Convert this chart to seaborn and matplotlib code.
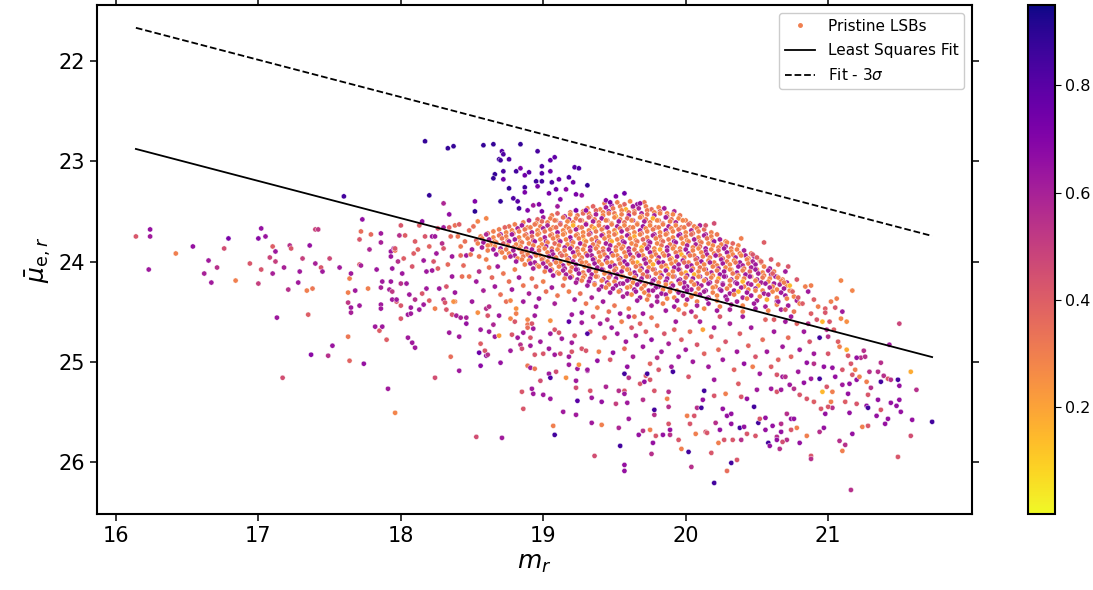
import matplotlib
matplotlib.use("Agg")
import matplotlib.pyplot as plt
import seaborn as sns
import numpy as np
import pandas as pd
from matplotlib.colors import Normalize
from matplotlib.cm import ScalarMappable
from matplotlib.lines import Line2D

# ---------------- data (m_r, mu_e_r, colour value) ----------------
pts_left = [(16.14,23.75,.42),(16.24,23.68,.65),(16.24,23.75,.62),(16.23,24.08,.63),(16.42,23.92,.30),(16.54,23.85,.65),(16.65,23.99,.62),(16.62,24.12,.60),(16.67,24.21,.62),(16.71,24.06,.55),(16.76,23.87,.45),(16.79,23.77,.72),(16.84,24.19,.30),(16.94,24.02,.42),(17.00,24.22,.50),(17.00,23.77,.68),(17.02,23.67,.65),(17.05,23.75,.64),(17.02,24.08,.43),(17.08,23.96,.48),(17.10,23.85,.40),(17.12,23.90,.63),(17.12,24.00,.50),(17.10,24.12,.60),(17.18,24.06,.60),(17.21,24.28,.55),(17.22,23.84,.55),(17.23,23.87,.42),(17.13,24.56,.63),(17.17,25.16,.45),(17.28,24.21,.62),(17.29,24.10,.62),(17.31,23.97,.50),(17.34,24.29,.30),(17.38,24.27,.32),(17.35,24.53,.40),(17.36,23.84,.65),(17.37,24.93,.68),(17.40,23.68,.48),(17.42,23.68,.52),(17.40,24.02,.60),(17.44,24.06,.42),(17.45,24.10,.62),(17.49,24.94,.55),(17.50,23.97,.47),(17.52,24.84,.64),(17.57,24.06,.62),(17.60,23.35,.85),(17.63,24.75,.32),(17.64,24.99,.38),(17.63,24.31,.30),(17.63,24.41,.52),(17.64,24.17,.30),(17.65,24.12,.62),(17.65,24.46,.62),(17.65,24.51,.60),(17.68,24.29,.62),(17.71,24.44,.62),(17.71,24.03,.40),(17.72,24.04,.60),(17.71,23.78,.42),(17.72,23.70,.35),(17.73,23.58,.66),(17.74,25.02,.65),(17.77,24.27,.30),(17.78,23.88,.58),(17.79,23.73,.36),(17.82,24.65,.62),(17.85,24.69,.40),(17.87,24.65,.63),(17.83,24.08,.63),(17.86,23.72,.62),(17.86,23.81,.60),(17.87,24.20,.62),(17.86,24.26,.60),(17.86,24.43,.62),(17.86,24.47,.62),(17.90,24.78,.40),(17.91,25.27,.62),(17.96,25.51,.28),(17.93,23.90,.63),(17.93,23.95,.63),(17.94,24.07,.63),(17.93,24.20,.63),(17.92,24.28,.60),(17.94,24.30,.52),(17.94,24.38,.62),(17.97,24.40,.42),(17.95,23.87,.62),(17.96,23.89,.32)]

pts_mid_left = [(18.00,23.64,.42),(18.03,23.74,.40),(17.99,23.74,.55),(18.13,23.64,.40),(18.17,23.75,.42),(18.22,23.75,.63),(18.24,23.75,.62),(18.26,23.67,.42),(18.30,23.66,.62),(18.34,23.66,.40),(18.38,23.64,.34),(18.41,23.63,.40),(18.48,23.69,.36),(18.51,23.65,.34),(18.54,23.60,.28),(18.60,23.57,.28),(18.29,23.82,.55),(18.30,23.87,.42),(18.36,23.95,.62),(18.42,23.94,.36),(18.46,23.94,.62),(18.49,23.93,.34),(18.44,24.04,.36),(18.18,24.10,.63),(18.22,24.09,.62),(18.26,24.07,.40),(18.23,24.00,.42),(18.16,23.99,.62),(18.08,24.05,.42),(18.02,23.97,.40),(17.98,24.00,.55),(18.01,24.12,.63),(18.00,24.22,.55),(18.04,24.22,.62),(17.96,23.87,.42),(18.09,23.92,.40),(18.12,23.88,.38),(18.33,24.03,.36),(18.36,24.15,.62),(18.43,24.15,.34),(18.48,24.15,.32),(18.27,24.27,.62),(18.32,24.25,.42),(18.38,24.31,.63),(18.15,24.32,.42),(18.18,24.27,.62),(18.20,24.39,.40),(17.97,24.38,.62),(18.06,24.33,.62),(18.10,24.38,.55),(18.07,24.46,.62),(18.16,24.43,.62),(18.30,24.38,.55),(18.38,24.40,.30),(18.55,24.10,.55),(18.53,24.20,.62),(18.58,24.29,.60),(18.60,23.98,.30),(18.62,24.06,.34),(18.64,24.16,.36),(18.66,24.25,.62),(18.70,24.33,.34),(18.68,24.05,.62),(18.72,24.12,.32),(18.76,24.20,.34),(18.78,24.28,.62),(18.74,24.40,.34),(18.80,24.08,.30),(18.83,24.16,.62),(18.86,24.24,.32),(18.90,24.32,.60),(18.92,24.17,.34),(18.95,24.25,.36),(18.97,24.37,.62),(19.00,24.20,.30),(19.02,24.30,.34),(19.06,24.26,.62),(19.10,24.34,.32),(19.14,24.24,.34),(19.08,24.42,.60),(19.18,24.30,.30),(19.22,24.38,.62),(19.26,24.32,.34),(19.30,24.42,.32),(19.34,24.36,.60),(19.38,24.46,.30),(19.42,24.40,.62),(19.46,24.50,.34),(19.50,24.44,.32),(19.54,24.52,.62),(19.60,24.47,.30),(19.64,24.55,.34),(19.70,24.52,.62),(19.76,24.56,.32),(18.45,23.80,.34),(18.40,23.75,.32),(18.50,23.88,.62),(18.42,23.85,.32),(18.55,23.95,.32),(18.35,23.75,.36),(18.20,23.85,.38),(18.25,23.92,.62),(18.10,23.80,.40)]

core_rows_a = [(19.43,23.42,.32),(19.48,23.44,.60),(19.52,23.41,.30),(19.57,23.43,.38),(19.61,23.40,.28),(19.66,23.43,.64),(19.71,23.41,.32),
(19.31,23.47,.30),(19.35,23.45,.38),(19.40,23.48,.28),(19.44,23.46,.62),(19.49,23.47,.32),(19.54,23.45,.30),(19.58,23.48,.16),(19.63,23.46,.34),(19.67,23.47,.58),(19.72,23.45,.30),(19.76,23.48,.36),(19.81,23.46,.28),(19.85,23.47,.62),
(19.19,23.51,.34),(19.23,23.49,.60),(19.28,23.50,.30),(19.32,23.52,.28),(19.37,23.49,.38),(19.42,23.51,.30),(19.46,23.50,.64),(19.50,23.52,.32),(19.55,23.49,.28),(19.60,23.51,.36),(19.64,23.50,.30),(19.69,23.52,.60),(19.73,23.49,.32),(19.78,23.51,.28),(19.82,23.50,.40),(19.87,23.52,.30),(19.92,23.50,.58),
(19.06,23.54,.30),(19.10,23.52,.40),(19.15,23.55,.62),(19.19,23.53,.28),(19.24,23.54,.32),(19.28,23.52,.36),(19.33,23.55,.30),(19.37,23.53,.60),(19.42,23.54,.28),(19.46,23.52,.32),(19.51,23.55,.18),(19.55,23.53,.30),(19.60,23.54,.62),(19.64,23.52,.34),(19.69,23.55,.28),(19.73,23.53,.32),(19.78,23.54,.60),(19.82,23.52,.30),(19.87,23.55,.38),(19.91,23.53,.28),(19.96,23.54,.32),
(18.96,23.58,.38),(19.00,23.56,.62),(19.05,23.57,.30),(19.09,23.59,.28),(19.14,23.56,.34),(19.18,23.58,.60),(19.23,23.57,.30),(19.27,23.59,.28),(19.32,23.56,.40),(19.36,23.58,.30),(19.41,23.57,.62),(19.45,23.59,.32),(19.50,23.56,.28),(19.54,23.58,.30),(19.59,23.57,.36),(19.63,23.59,.58),(19.68,23.56,.28),(19.72,23.58,.32),(19.77,23.57,.16),(19.81,23.59,.30),(19.86,23.56,.62),(19.90,23.58,.34),(19.95,23.57,.28),(20.00,23.59,.30),
(18.86,23.61,.30),(18.90,23.59,.60),(18.95,23.62,.28),(18.99,23.60,.36),(19.03,23.61,.30),(19.08,23.59,.32),(19.12,23.62,.64),(19.17,23.60,.28),(19.21,23.61,.30),(19.26,23.59,.38),(19.30,23.62,.28),(19.35,23.60,.60),(19.39,23.61,.32),(19.44,23.59,.30),(19.48,23.62,.28),(19.53,23.60,.62),(19.57,23.61,.34),(19.62,23.59,.28),(19.66,23.62,.30),(19.71,23.60,.60),(19.75,23.61,.32),(19.80,23.59,.28),(19.84,23.62,.38),(19.89,23.60,.30),(19.93,23.61,.58),(19.98,23.59,.28),(20.03,23.62,.32),
(18.76,23.65,.34),(18.80,23.63,.30),(18.85,23.64,.62),(18.89,23.66,.28),(18.94,23.63,.32),(18.98,23.65,.30),(19.03,23.64,.58),(19.07,23.66,.28),(19.12,23.63,.36),(19.16,23.65,.30),(19.21,23.64,.16),(19.25,23.66,.32),(19.30,23.63,.62),(19.34,23.65,.28),(19.39,23.64,.30),(19.43,23.66,.40),(19.48,23.63,.30),(19.52,23.65,.60),(19.57,23.64,.28),(19.61,23.66,.32),(19.66,23.63,.30),(19.70,23.65,.64),(19.75,23.64,.28),(19.79,23.66,.34),(19.84,23.63,.30),(19.88,23.65,.60),(19.93,23.64,.28),(19.97,23.66,.32),(20.02,23.63,.38),(20.06,23.65,.30),(20.10,23.64,.60),
(18.69,23.68,.30),(18.73,23.66,.38),(18.78,23.69,.28),(18.82,23.67,.60),(18.87,23.68,.32),(18.91,23.66,.30),(18.96,23.69,.28),(19.00,23.67,.62),(19.05,23.68,.30),(19.09,23.66,.34),(19.14,23.69,.28),(19.18,23.67,.30),(19.23,23.68,.60),(19.27,23.66,.32),(19.32,23.69,.28),(19.36,23.67,.18),(19.41,23.68,.30),(19.45,23.66,.64),(19.50,23.69,.28),(19.54,23.67,.32),(19.59,23.68,.38),(19.63,23.66,.30),(19.68,23.69,.60),(19.72,23.67,.28),(19.77,23.68,.32),(19.81,23.66,.30),(19.86,23.69,.62),(19.90,23.67,.28),(19.95,23.68,.34),(19.99,23.66,.30),(20.04,23.69,.58),(20.08,23.67,.30),(20.13,23.68,.36)]

core_rows_b = [(18.61,23.72,.36),(18.65,23.70,.30),(18.70,23.73,.62),(18.74,23.71,.28),(18.79,23.72,.32),(18.83,23.70,.30),(18.88,23.73,.40),(18.92,23.71,.60),(18.97,23.72,.28),(19.01,23.70,.32),(19.06,23.73,.30),(19.10,23.71,.64),(19.15,23.72,.28),(19.19,23.70,.34),(19.24,23.73,.30),(19.28,23.71,.28),(19.33,23.72,.60),(19.37,23.70,.32),(19.42,23.73,.28),(19.46,23.71,.30),(19.51,23.72,.16),(19.55,23.70,.62),(19.60,23.73,.30),(19.64,23.71,.28),(19.69,23.72,.36),(19.73,23.70,.30),(19.78,23.73,.60),(19.82,23.71,.28),(19.87,23.72,.32),(19.91,23.70,.30),(19.96,23.73,.62),(20.00,23.71,.28),(20.05,23.72,.34),(20.09,23.70,.30),(20.14,23.73,.58),(20.18,23.71,.30),
(18.56,23.75,.30),(18.60,23.73,.58),(18.65,23.76,.28),(18.69,23.74,.34),(18.74,23.75,.30),(18.78,23.73,.62),(18.83,23.76,.28),(18.87,23.74,.30),(18.92,23.75,.36),(18.96,23.73,.28),(19.01,23.76,.60),(19.05,23.74,.32),(19.10,23.75,.30),(19.14,23.73,.28),(19.19,23.76,.64),(19.23,23.74,.30),(19.28,23.75,.28),(19.32,23.73,.38),(19.37,23.76,.30),(19.41,23.74,.60),(19.46,23.75,.28),(19.50,23.73,.32),(19.55,23.76,.30),(19.59,23.74,.62),(19.64,23.75,.18),(19.68,23.73,.30),(19.73,23.76,.28),(19.77,23.74,.60),(19.82,23.75,.32),(19.86,23.73,.30),(19.91,23.76,.28),(19.95,23.74,.64),(20.00,23.75,.30),(20.04,23.73,.36),(20.09,23.76,.28),(20.13,23.74,.60),(20.18,23.75,.30),(20.22,23.73,.32),
(18.53,23.79,.38),(18.57,23.77,.30),(18.62,23.78,.60),(18.66,23.80,.28),(18.71,23.77,.32),(18.75,23.79,.30),(18.80,23.78,.62),(18.84,23.80,.28),(18.89,23.77,.30),(18.93,23.79,.36),(18.98,23.78,.28),(19.02,23.80,.60),(19.07,23.77,.30),(19.11,23.79,.32),(19.16,23.78,.28),(19.20,23.80,.62),(19.25,23.77,.30),(19.29,23.79,.16),(19.34,23.78,.30),(19.38,23.80,.58),(19.43,23.77,.28),(19.47,23.79,.34),(19.52,23.78,.30),(19.56,23.80,.62),(19.61,23.77,.28),(19.65,23.79,.30),(19.70,23.78,.38),(19.74,23.80,.60),(19.79,23.77,.30),(19.83,23.79,.28),(19.88,23.78,.32),(19.92,23.80,.64),(19.97,23.77,.30),(20.01,23.79,.28),(20.06,23.78,.60),(20.10,23.80,.30),(20.15,23.77,.34),(20.19,23.79,.28),(20.24,23.78,.60),(20.28,23.80,.30),
(18.54,23.82,.30),(18.58,23.81,.62),(18.63,23.83,.28),(18.67,23.81,.30),(18.72,23.82,.40),(18.76,23.80,.60),(18.81,23.83,.28),(18.85,23.81,.32),(18.90,23.82,.30),(18.94,23.80,.64),(18.99,23.83,.28),(19.03,23.81,.30),(19.08,23.82,.36),(19.12,23.80,.60),(19.17,23.83,.28),(19.21,23.81,.30),(19.26,23.82,.62),(19.30,23.80,.28),(19.35,23.83,.32),(19.39,23.81,.30),(19.44,23.82,.60),(19.48,23.80,.18),(19.53,23.83,.30),(19.57,23.81,.62),(19.62,23.82,.28),(19.66,23.80,.32),(19.71,23.83,.30),(19.75,23.81,.60),(19.80,23.82,.28),(19.84,23.80,.36),(19.89,23.83,.30),(19.93,23.81,.62),(19.98,23.82,.28),(20.02,23.80,.30),(20.07,23.83,.60),(20.11,23.81,.32),(20.16,23.82,.28),(20.20,23.80,.64),(20.25,23.83,.30),(20.29,23.81,.28),(20.33,23.82,.38),
(18.57,23.86,.60),(18.61,23.84,.30),(18.66,23.85,.28),(18.70,23.87,.62),(18.75,23.84,.30),(18.79,23.86,.34),(18.84,23.85,.28),(18.88,23.87,.60),(18.93,23.84,.30),(18.97,23.86,.28),(19.02,23.85,.62),(19.06,23.87,.32),(19.11,23.84,.30),(19.15,23.86,.60),(19.20,23.85,.28),(19.24,23.87,.38),(19.29,23.84,.30),(19.33,23.86,.64),(19.38,23.85,.28),(19.42,23.87,.30),(19.47,23.84,.60),(19.51,23.86,.32),(19.56,23.85,.28),(19.60,23.87,.62),(19.65,23.84,.30),(19.69,23.86,.16),(19.74,23.85,.60),(19.78,23.87,.28),(19.83,23.84,.34),(19.87,23.86,.62),(19.92,23.85,.30),(19.96,23.87,.28),(20.01,23.84,.60),(20.05,23.86,.30),(20.10,23.85,.36),(20.14,23.87,.62),(20.19,23.84,.28),(20.23,23.86,.30),(20.28,23.85,.60),(20.32,23.87,.32),(20.37,23.84,.28),
(18.61,23.89,.30),(18.65,23.88,.62),(18.70,23.90,.28),(18.74,23.88,.32),(18.79,23.89,.60),(18.83,23.87,.30),(18.88,23.90,.28),(18.92,23.88,.62),(18.97,23.89,.36),(19.01,23.87,.30),(19.06,23.90,.60),(19.10,23.88,.28),(19.15,23.89,.32),(19.19,23.87,.64),(19.24,23.90,.30),(19.28,23.88,.28),(19.33,23.89,.60),(19.37,23.87,.30),(19.42,23.90,.38),(19.46,23.88,.62),(19.51,23.89,.28),(19.55,23.87,.30),(19.60,23.90,.60),(19.64,23.88,.32),(19.69,23.89,.28),(19.73,23.87,.62),(19.78,23.90,.30),(19.82,23.88,.18),(19.87,23.89,.60),(19.91,23.87,.28),(19.96,23.90,.34),(20.00,23.88,.62),(20.05,23.89,.30),(20.09,23.87,.28),(20.14,23.90,.60),(20.18,23.88,.30),(20.23,23.89,.36),(20.27,23.87,.62),(20.32,23.90,.28),(20.36,23.88,.30),(20.41,23.89,.60),
(18.67,23.93,.62),(18.71,23.91,.30),(18.76,23.92,.28),(18.80,23.94,.60),(18.85,23.91,.32),(18.89,23.93,.30),(18.94,23.92,.62),(18.98,23.94,.28),(19.03,23.91,.30),(19.07,23.93,.60),(19.12,23.92,.36),(19.16,23.94,.28),(19.21,23.91,.62),(19.25,23.93,.30),(19.30,23.92,.28),(19.34,23.94,.60),(19.39,23.91,.32),(19.43,23.93,.30),(19.48,23.92,.64),(19.52,23.94,.28),(19.57,23.91,.30),(19.61,23.93,.60),(19.66,23.92,.38),(19.70,23.94,.28),(19.75,23.91,.62),(19.79,23.93,.30),(19.84,23.92,.28),(19.88,23.94,.60),(19.93,23.91,.32),(19.97,23.93,.16),(20.02,23.92,.62),(20.06,23.94,.30),(20.11,23.91,.28),(20.15,23.93,.60),(20.20,23.92,.30),(20.24,23.94,.34),(20.29,23.91,.62),(20.33,23.93,.28),(20.38,23.92,.30),(20.42,23.94,.60),(20.46,23.92,.32)]

core_rows_c = [(18.73,23.96,.30),(18.77,23.95,.60),(18.82,23.97,.28),(18.86,23.95,.32),(18.91,23.96,.62),(18.95,23.94,.30),(19.00,23.97,.28),(19.04,23.95,.60),(19.09,23.96,.30),(19.13,23.94,.38),(19.18,23.97,.62),(19.22,23.95,.28),(19.27,23.96,.30),(19.31,23.94,.60),(19.36,23.97,.32),(19.40,23.95,.28),(19.45,23.96,.62),(19.49,23.94,.30),(19.54,23.97,.60),(19.58,23.95,.28),(19.63,23.96,.34),(19.67,23.94,.62),(19.72,23.97,.30),(19.76,23.95,.28),(19.81,23.96,.60),(19.85,23.94,.30),(19.90,23.97,.18),(19.94,23.95,.62),(19.99,23.96,.28),(20.03,23.94,.32),(20.08,23.97,.60),(20.12,23.95,.30),(20.17,23.96,.28),(20.21,23.94,.62),(20.26,23.97,.36),(20.30,23.95,.30),(20.35,23.96,.60),(20.39,23.94,.28),(20.44,23.97,.30),(20.48,23.95,.62),
(18.81,24.00,.62),(18.85,23.98,.30),(18.90,23.99,.28),(18.94,24.01,.60),(18.99,23.98,.32),(19.03,24.00,.30),(19.08,23.99,.62),(19.12,24.01,.28),(19.17,23.98,.30),(19.21,24.00,.60),(19.26,23.99,.36),(19.30,24.01,.28),(19.35,23.98,.62),(19.39,24.00,.30),(19.44,23.99,.60),(19.48,24.01,.28),(19.53,23.98,.32),(19.57,24.00,.64),(19.62,23.99,.30),(19.66,24.01,.16),(19.71,23.98,.60),(19.75,24.00,.28),(19.80,23.99,.30),(19.84,24.01,.62),(19.89,23.98,.32),(19.93,24.00,.28),(19.98,23.99,.60),(20.02,24.01,.30),(20.07,23.98,.38),(20.11,24.00,.62),(20.16,23.99,.28),(20.20,24.01,.30),(20.25,23.98,.60),(20.29,24.00,.32),(20.34,23.99,.28),(20.38,24.01,.62),(20.43,23.98,.30),(20.47,24.00,.60),(20.52,23.99,.28),
(18.87,24.03,.30),(18.91,24.02,.62),(18.96,24.04,.28),(19.00,24.02,.60),(19.05,24.03,.32),(19.09,24.01,.30),(19.14,24.04,.62),(19.18,24.02,.28),(19.23,24.03,.60),(19.27,24.01,.30),(19.32,24.04,.34),(19.36,24.02,.62),(19.41,24.03,.28),(19.45,24.01,.30),(19.50,24.04,.60),(19.54,24.02,.32),(19.59,24.03,.62),(19.63,24.01,.28),(19.68,24.04,.30),(19.72,24.02,.60),(19.77,24.03,.18),(19.81,24.01,.62),(19.86,24.04,.30),(19.90,24.02,.28),(19.95,24.03,.60),(19.99,24.01,.36),(20.04,24.04,.62),(20.08,24.02,.30),(20.13,24.03,.28),(20.17,24.01,.60),(20.22,24.04,.30),(20.26,24.02,.62),(20.31,24.03,.28),(20.35,24.01,.32),(20.40,24.04,.60),(20.44,24.02,.30),(20.49,24.03,.62),(20.53,24.01,.28),
(18.93,24.07,.60),(18.97,24.05,.30),(19.02,24.06,.62),(19.06,24.08,.28),(19.11,24.05,.30),(19.15,24.07,.60),(19.20,24.06,.32),(19.24,24.08,.62),(19.29,24.05,.28),(19.33,24.07,.30),(19.38,24.06,.60),(19.42,24.08,.38),(19.47,24.05,.62),(19.51,24.07,.28),(19.56,24.06,.30),(19.60,24.08,.60),(19.65,24.05,.32),(19.69,24.07,.62),(19.74,24.06,.28),(19.78,24.08,.60),(19.83,24.05,.30),(19.87,24.07,.16),(19.92,24.06,.62),(19.96,24.08,.30),(20.01,24.05,.60),(20.05,24.07,.28),(20.10,24.06,.34),(20.14,24.08,.62),(20.19,24.05,.30),(20.23,24.07,.60),(20.28,24.06,.28),(20.32,24.08,.30),(20.37,24.05,.62),(20.41,24.07,.32),(20.46,24.06,.60),(20.50,24.08,.28),(20.55,24.05,.30),(20.59,24.07,.62),
(19.01,24.10,.30),(19.05,24.09,.62),(19.10,24.11,.28),(19.14,24.09,.60),(19.19,24.10,.32),(19.23,24.08,.62),(19.28,24.11,.30),(19.32,24.09,.60),(19.37,24.10,.28),(19.41,24.08,.62),(19.46,24.11,.30),(19.50,24.09,.36),(19.55,24.10,.60),(19.59,24.08,.28),(19.64,24.11,.62),(19.68,24.09,.30),(19.73,24.10,.60),(19.77,24.08,.32),(19.82,24.11,.28),(19.86,24.09,.62),(19.91,24.10,.30),(19.95,24.08,.60),(20.00,24.11,.18),(20.04,24.09,.62),(20.09,24.10,.28),(20.13,24.08,.30),(20.18,24.11,.60),(20.22,24.09,.32),(20.27,24.10,.62),(20.31,24.08,.28),(20.36,24.11,.60),(20.40,24.09,.30),(20.45,24.10,.38),(20.49,24.08,.62),(20.54,24.11,.28),(20.58,24.09,.60),(20.62,24.10,.30),
(19.07,24.14,.62),(19.11,24.12,.30),(19.16,24.13,.60),(19.20,24.15,.28),(19.25,24.12,.62),(19.29,24.14,.30),(19.34,24.13,.60),(19.38,24.15,.32),(19.43,24.12,.28),(19.47,24.14,.62),(19.52,24.13,.60),(19.56,24.15,.30),(19.61,24.12,.28),(19.65,24.14,.62),(19.70,24.13,.34),(19.74,24.15,.60),(19.79,24.12,.30),(19.83,24.14,.62),(19.88,24.13,.28),(19.92,24.15,.60),(19.97,24.12,.30),(20.01,24.14,.62),(20.06,24.13,.16),(20.10,24.15,.60),(20.15,24.12,.30),(20.19,24.14,.28),(20.24,24.13,.62),(20.28,24.15,.60),(20.33,24.12,.32),(20.37,24.14,.30),(20.42,24.13,.62),(20.46,24.15,.28),(20.51,24.12,.60),(20.55,24.14,.30),(20.60,24.13,.62),(20.64,24.15,.28),
(19.15,24.17,.30),(19.19,24.16,.62),(19.24,24.18,.60),(19.28,24.16,.28),(19.33,24.17,.62),(19.37,24.15,.30),(19.42,24.18,.60),(19.46,24.16,.32),(19.51,24.17,.62),(19.55,24.15,.28),(19.60,24.18,.60),(19.64,24.16,.30),(19.69,24.17,.62),(19.73,24.15,.36),(19.78,24.18,.60),(19.82,24.16,.28),(19.87,24.17,.62),(19.91,24.15,.30),(19.96,24.18,.60),(20.00,24.16,.32),(20.05,24.17,.62),(20.09,24.15,.28),(20.14,24.18,.60),(20.18,24.16,.30),(20.23,24.17,.18),(20.27,24.15,.62),(20.32,24.18,.60),(20.36,24.16,.28),(20.41,24.17,.30),(20.45,24.15,.62),(20.50,24.18,.60),(20.54,24.16,.32),(20.59,24.17,.28),(20.63,24.15,.62),(20.68,24.18,.30)]

core_rows_d = [(19.23,24.21,.60),(19.27,24.19,.30),(19.32,24.20,.62),(19.36,24.22,.60),(19.41,24.19,.28),(19.45,24.21,.62),(19.50,24.20,.30),(19.54,24.22,.60),(19.59,24.19,.62),(19.63,24.21,.28),(19.68,24.20,.60),(19.72,24.22,.32),(19.77,24.19,.62),(19.81,24.21,.30),(19.86,24.20,.60),(19.90,24.22,.28),(19.95,24.19,.62),(19.99,24.21,.60),(20.04,24.20,.30),(20.08,24.22,.62),(20.13,24.19,.28),(20.17,24.21,.60),(20.22,24.20,.34),(20.26,24.22,.62),(20.31,24.19,.30),(20.35,24.21,.60),(20.40,24.20,.16),(20.44,24.22,.62),(20.49,24.19,.30),(20.53,24.21,.60),(20.58,24.20,.28),(20.62,24.22,.62),(20.67,24.19,.30),(20.71,24.21,.60),
(19.31,24.24,.62),(19.36,24.23,.28),(19.41,24.25,.60),(19.46,24.23,.30),(19.51,24.24,.62),(19.56,24.22,.60),(19.61,24.25,.28),(19.66,24.23,.62),(19.71,24.24,.30),(19.76,24.22,.60),(19.81,24.25,.62),(19.86,24.23,.28),(19.91,24.24,.60),(19.96,24.22,.32),(20.01,24.25,.62),(20.06,24.23,.30),(20.11,24.24,.60),(20.16,24.22,.62),(20.21,24.25,.28),(20.26,24.23,.60),(20.31,24.24,.30),(20.36,24.22,.62),(20.41,24.25,.28),(20.46,24.23,.60),(20.51,24.24,.18),(20.56,24.22,.62),(20.61,24.25,.30),(20.66,24.23,.60),(20.71,24.24,.28),
(19.39,24.28,.60),(19.44,24.26,.30),(19.49,24.27,.62),(19.54,24.29,.60),(19.59,24.26,.28),(19.64,24.28,.62),(19.69,24.27,.30),(19.74,24.29,.60),(19.79,24.26,.62),(19.84,24.28,.28),(19.89,24.27,.60),(19.94,24.29,.30),(19.99,24.26,.62),(20.04,24.28,.60),(20.09,24.27,.32),(20.14,24.29,.62),(20.19,24.26,.28),(20.24,24.28,.60),(20.29,24.27,.30),(20.34,24.29,.62),(20.39,24.26,.60),(20.44,24.28,.28),(20.49,24.27,.62),(20.54,24.29,.30),(20.59,24.26,.60),(20.64,24.28,.28),(20.69,24.27,.62),(20.74,24.29,.30),
(19.47,24.31,.62),(19.53,24.30,.30),(19.59,24.32,.60),(19.65,24.30,.62),(19.71,24.31,.28),(19.77,24.29,.60),(19.83,24.32,.62),(19.89,24.30,.30),(19.95,24.31,.60),(20.01,24.29,.62),(20.07,24.32,.28),(20.13,24.30,.60),(20.19,24.31,.30),(20.25,24.29,.62),(20.31,24.32,.60),(20.37,24.30,.16),(20.43,24.31,.62),(20.49,24.29,.30),(20.55,24.32,.60),(20.61,24.30,.28),(20.67,24.31,.62),(20.73,24.29,.30),
(19.56,24.35,.60),(19.62,24.33,.28),(19.68,24.36,.62),(19.74,24.34,.30),(19.80,24.35,.60),(19.86,24.33,.62),(19.92,24.36,.28),(19.98,24.34,.60),(20.04,24.35,.30),(20.10,24.33,.62),(20.16,24.36,.60),(20.22,24.34,.28),(20.28,24.35,.62),(20.34,24.33,.30),(20.40,24.36,.60),(20.46,24.34,.62),(20.52,24.35,.28),(20.58,24.33,.60),(20.64,24.36,.30),(20.70,24.34,.62),(20.76,24.35,.28),
(19.66,24.39,.62),(19.73,24.38,.30),(19.80,24.40,.60),(19.87,24.37,.28),(19.94,24.39,.62),(20.01,24.38,.60),(20.08,24.40,.30),(20.15,24.37,.62),(20.22,24.39,.28),(20.29,24.38,.60),(20.36,24.40,.62),(20.43,24.37,.30),(20.50,24.39,.60),(20.57,24.38,.18),(20.64,24.40,.62),(20.71,24.37,.30),(20.78,24.39,.60),
(19.76,24.44,.60),(19.84,24.42,.30),(19.92,24.45,.62),(20.00,24.43,.28),(20.08,24.44,.60),(20.16,24.42,.62),(20.24,24.45,.30),(20.32,24.43,.60),(20.40,24.44,.28),(20.48,24.42,.62),(20.56,24.45,.60),(20.64,24.43,.30),(20.72,24.44,.62),(20.80,24.42,.28),
(19.86,24.49,.62),(19.95,24.48,.30),(20.04,24.50,.60),(20.13,24.47,.28),(20.22,24.49,.62),(20.31,24.48,.60),(20.40,24.50,.30),(20.49,24.47,.62),(20.58,24.49,.28),(20.67,24.48,.60),(20.76,24.50,.32)]

pts_below_core = [(19.35,24.55,.42),(19.40,24.62,.62),(19.33,24.70,.38),(19.45,24.58,.55),(19.48,24.66,.62),(19.43,24.76,.40),(19.52,24.72,.62),(19.55,24.60,.30),(19.58,24.80,.62),(19.62,24.66,.42),(19.65,24.74,.60),(19.68,24.62,.38),(19.70,24.85,.62),(19.72,24.70,.40),(19.76,24.78,.65),(19.80,24.64,.35),(19.83,24.90,.62),(19.85,24.72,.42),(19.88,24.82,.60),(19.92,24.68,.38),(19.95,24.95,.62),(19.97,24.78,.40),(20.00,24.88,.62),(20.03,24.70,.35),(20.05,25.00,.62),(20.08,24.83,.42),(20.10,24.60,.60),(20.13,24.92,.38),(20.16,25.05,.62),(20.18,24.75,.40),(20.20,24.66,.62),(20.23,24.88,.35),(20.26,24.98,.62),(20.28,24.80,.42),(20.31,24.62,.60),(20.34,25.08,.38),(20.36,24.90,.62),(20.38,24.72,.40),(20.41,25.02,.65),(20.44,24.84,.38),(20.46,24.66,.62),(20.49,24.95,.42),(20.52,25.12,.62),(20.54,24.78,.35),(20.57,24.90,.62),(20.60,25.05,.40),(20.62,24.70,.62),(20.65,24.98,.38),(20.68,25.15,.62),(19.47,24.98,.42),(19.63,24.95,.60),(19.75,25.02,.38),(19.90,25.05,.62),(20.02,25.15,.42),(20.20,25.18,.62),(20.37,25.22,.40),(20.50,25.28,.62),(20.64,25.30,.42),(19.57,24.87,.35),(19.93,24.60,.62),(20.07,24.55,.38),(20.24,24.55,.42),(20.40,24.55,.62),(20.56,24.58,.38),(20.70,24.60,.62),(20.12,24.68,.20),(19.99,24.52,.40),(19.60,24.55,.62),(20.47,25.05,.30),(19.80,24.96,.55)]

pts_lower_left = [(18.00,24.44,.42),(18.05,24.53,.62),(18.07,24.52,.62),(18.13,24.48,.62),(18.00,24.57,.42),(18.05,24.76,.62),(18.08,24.81,.62),(18.10,24.86,.62),(18.24,25.16,.45),(18.24,24.47,.30),(18.31,24.41,.42),(18.32,24.48,.42),(18.37,24.40,.25),(18.36,24.53,.42),(18.39,24.54,.60),(18.42,24.56,.60),(18.46,24.56,.60),(18.46,24.62,.65),(18.34,24.71,.62),(18.41,24.75,.62),(18.35,24.95,.35),(18.41,25.09,.62),(18.50,24.40,.62),(18.54,24.51,.25),(18.56,24.68,.62),(18.56,24.82,.40),(18.55,24.91,.75),(18.59,24.89,.42),(18.60,24.94,.65),(18.61,24.93,.55),(18.56,25.04,.68),(18.53,25.75,.45),(18.61,24.54,.42),(18.60,24.47,.55),(18.62,24.45,.55),(18.65,24.63,.58),(18.62,24.70,.62),(18.66,24.75,.62),(18.69,24.74,.22),(18.69,24.54,.62),(18.70,25.01,.65),(18.71,25.76,.62),(18.77,24.89,.62),(18.78,24.73,.42),(18.80,24.60,.42),(18.77,24.57,.28),(18.77,24.39,.28),(18.81,24.47,.25),(18.81,24.52,.30),(18.82,24.76,.62),(18.84,24.83,.55),(18.85,24.87,.45),(18.86,24.40,.62),(18.89,24.58,.28),(18.89,24.63,.32),(18.89,24.66,.35),(18.86,24.71,.62),(18.91,24.84,.62),(18.92,24.62,.42),(18.93,24.67,.62),(18.91,24.76,.42),(18.85,25.30,.42),(18.86,25.47,.42),(18.89,25.04,.32),(18.91,25.06,.62),(18.94,25.07,.32),(18.92,25.27,.62),(18.93,25.32,.62),(18.94,24.93,.42),(18.95,24.45,.62),(18.94,24.54,.62),(18.98,25.19,.45),(19.00,24.92,.42),(18.98,24.80,.62),(19.00,25.33,.62),(19.04,24.87,.62),(19.04,25.12,.62),(19.05,25.16,.82),(19.05,25.37,.62),(19.07,25.64,.30),(19.08,25.73,.85),(19.08,24.93,.62),(19.09,25.10,.45),(19.05,24.72,.62),(19.08,24.68,.42),(19.05,24.59,.25),(19.11,24.71,.42),(19.13,24.77,.62),(19.12,24.92,.45),(19.14,25.50,.62),(19.16,25.16,.25),(19.18,24.95,.62),(19.18,25.03,.62),(19.18,24.60,.78),(19.20,24.53,.62),(19.20,24.90,.42),(19.20,24.81,.62),(19.22,24.74,.42),(19.23,25.26,.45),(19.23,25.19,.62),(19.23,25.53,.62),(19.24,25.07,.62),(19.25,25.03,.25),(19.24,25.39,.80),(19.27,24.61,.62),(19.27,24.87,.42),(19.31,25.09,.62),(19.31,24.72,.82)]

pts_lower_centre = [(19.27,24.51,.65),(19.30,24.89,.42),(19.31,25.08,.62),(19.33,25.29,.42),(19.34,25.36,.62),(19.34,25.61,.62),(19.36,25.94,.45),(19.38,24.99,.65),(19.39,24.90,.30),(19.41,25.40,.65),(19.41,25.63,.30),(19.44,25.25,.58),(19.49,24.91,.65),(19.51,25.42,.50),(19.54,25.84,.85),(19.53,25.29,.55),(19.57,25.29,.42),(19.57,25.32,.62),(19.57,25.12,.85),(19.59,25.41,.62),(19.60,25.16,.55),(19.59,25.05,.65),(19.60,25.57,.62),(19.53,25.66,.58),(19.57,26.03,.65),(19.57,26.09,.65),(19.67,25.73,.65),(19.70,25.69,.55),(19.70,25.38,.55),(19.68,25.22,.42),(19.71,25.20,.65),(19.72,25.14,.42),(19.73,25.12,.85),(19.75,25.18,.42),(19.75,25.68,.30),(19.77,25.81,.65),(19.76,25.92,.55),(19.78,25.48,.85),(19.78,25.53,.55),(19.79,25.74,.42),(19.78,25.29,.42),(19.81,25.08,.42),(19.84,25.73,.65),(19.87,25.37,.30),(19.88,25.45,.55),(19.89,25.68,.65),(19.89,25.73,.55),(19.88,25.62,.42),(19.88,25.30,.55),(19.91,25.10,.85),(19.95,25.78,.42),(19.97,25.87,.30),(20.02,25.90,.85),(20.04,26.05,.55),(20.01,25.54,.30),(20.03,25.62,.42),(20.06,25.54,.42),(20.07,25.72,.30),(20.08,25.46,.55),(20.11,25.46,.85),(20.12,25.38,.65),(20.13,25.29,.85),(20.14,25.70,.42),(20.15,25.71,.42),(20.18,25.91,.42),(20.20,26.21,.85),(20.21,25.61,.55),(20.20,25.34,.42),(20.23,25.81,.30),(20.24,25.68,.65),(20.26,25.47,.65),(20.29,26.09,.35),(20.27,25.78,.42),(20.28,25.32,.30),(20.29,25.54,.65),(20.32,25.52,.65),(20.32,25.62,.65),(20.32,26.01,.85),(20.33,25.78,.42),(20.36,25.98,.42),(20.38,25.66,.85),(20.39,25.78,.55),(20.41,25.65,.65),(20.43,25.72,.42),(20.39,25.35,.42),(20.43,25.37,.65),(20.48,25.45,.85),(20.49,25.74,.42),(20.51,25.61,.85),(20.52,25.57,.42),(20.56,25.56,.65),(20.56,25.68,.65),(20.58,25.81,.85),(20.59,25.84,.65),(20.61,25.64,.65)]

pts_right = [(20.88,24.24,.30),(21.09,24.19,.28),(21.17,24.29,.28),(21.06,24.37,.30),(21.09,24.57,.28),(21.13,24.60,.25),(21.50,24.62,.48),(21.43,24.83,.62),(21.25,24.89,.55),(21.23,24.96,.55),(21.26,24.95,.55),(21.37,25.01,.55),(21.58,25.10,.18),(21.49,25.18,.85),(21.50,25.24,.65),(21.42,25.17,.42),(21.44,25.18,.55),(21.39,25.14,.55),(21.37,25.20,.85),(21.29,25.10,.55),(21.35,25.10,.55),(21.30,25.26,.55),(21.19,25.08,.30),(21.20,25.18,.65),(21.27,25.20,.30),(21.62,25.28,.55),(21.35,25.38,.65),(21.44,25.41,.65),(21.50,25.38,.65),(21.48,25.44,.65),(21.51,25.50,.65),(21.37,25.48,.42),(21.34,25.54,.65),(21.42,25.57,.65),(21.40,25.62,.65),(21.59,25.58,.65),(21.73,25.60,.85),(21.58,25.74,.45),(21.49,25.95,.42),(21.28,25.64,.42),(21.24,25.65,.30),(21.17,25.72,.65),(21.16,26.28,.55),(21.27,25.44,.65),(21.28,25.46,.85),(21.28,25.33,.42),(21.20,25.42,.42),(21.15,25.51,.65),(21.14,25.32,.65),(21.12,25.40,.40),(21.08,25.79,.55),(21.12,25.83,.55),(21.10,25.89,.30),(21.03,25.46,.55),(21.00,25.45,.42),(20.98,25.52,.65),(20.95,25.47,.42),(21.02,25.40,.30),(20.94,25.70,.55),(20.97,25.66,.65),(20.88,25.94,.42),(20.88,25.97,.55),(20.85,25.74,.30),(20.80,25.81,.65),(20.71,25.78,.55),(20.68,25.80,.45),(20.66,25.87,.55),(20.64,25.75,.55),(20.64,25.78,.65),(20.74,25.68,.42),(20.78,25.66,.30),(20.67,25.62,.55),(20.67,25.70,.65),(20.74,25.57,.65),(20.76,25.57,.65),(20.71,25.52,.55)]

pts_right_mid = [(20.61,24.12,.40),(20.65,24.16,.30),(20.73,24.24,.15),(20.69,24.21,.30),(20.75,24.30,.40),(20.79,24.36,.42),(20.82,24.42,.40),(20.86,24.30,.62),(20.90,24.38,.40),(20.93,24.45,.30),(20.98,24.47,.40),(20.98,24.51,.42),(20.88,24.52,.40),(20.92,24.58,.42),(20.96,24.60,.15),(21.01,24.60,.42),(20.99,24.68,.55),(21.04,24.68,.40),(20.94,24.76,.85),(21.00,24.75,.55),(21.07,24.80,.40),(21.08,24.85,.30),(21.13,24.88,.18),(21.14,24.94,.42),(21.20,24.96,.65),(21.16,25.02,.42),(21.10,25.08,.42),(21.03,25.06,.65),(20.97,25.05,.65),(20.90,25.02,.55),(20.85,25.01,.65),(20.94,25.17,.85),(20.88,25.17,.62),(20.83,25.21,.65),(20.76,25.27,.55),(20.73,25.23,.62),(20.67,25.28,.62),(20.60,25.27,.62),(20.64,25.13,.42),(20.70,25.15,.55),(20.79,25.10,.62),(20.80,25.33,.42),(20.85,25.37,.42),(20.90,25.40,.40),(20.96,25.30,.15),(20.99,25.25,.42),(21.03,25.30,.30),(21.05,25.15,.65),(21.10,25.23,.62),(21.15,25.22,.65),(21.17,25.13,.42),(21.22,25.15,.30),(20.65,24.40,.62),(20.70,24.48,.40),(20.74,24.55,.62),(20.78,24.62,.38),(20.83,24.70,.62),(20.87,24.80,.42),(20.80,24.88,.62),(20.74,24.95,.38),(20.68,24.85,.62),(20.72,24.76,.35),(20.86,24.62,.55),(20.90,24.92,.62),(21.00,24.92,.42),(20.62,24.58,.40),(20.78,24.18,.42),(20.84,24.25,.30),(20.72,24.05,.42),(20.55,23.81,.40),(20.47,23.93,.42),(20.50,23.96,.40),(20.53,24.00,.38),(20.39,23.77,.30),(20.14,23.64,.42),(20.20,23.62,.45),(20.60,23.98,.42),(20.65,24.03,.35),(20.70,24.10,.62),(21.05,24.46,.42),(21.10,24.50,.62),(21.02,24.40,.30)]

pts_blue = [(18.17,22.80,.88),(18.33,22.87,.88),(18.37,22.85,.88),(18.58,22.84,.88),(18.65,22.83,.88),(18.84,22.83,.88),(18.71,22.90,.80),(18.72,22.93,.82),(18.69,22.98,.85),(18.70,22.99,.85),(18.76,22.98,.82),(18.96,22.90,.84),(19.08,22.96,.78),(19.05,22.99,.78),(18.99,23.05,.82),(18.81,23.10,.85),(18.84,23.07,.72),(18.90,23.11,.80),(18.87,23.14,.75),(18.72,23.10,.83),(18.66,23.13,.88),(18.65,23.17,.88),(18.72,23.18,.75),(18.99,23.12,.80),(19.05,23.10,.75),(18.95,23.20,.85),(18.99,23.20,.85),(19.06,23.21,.82),(19.11,23.18,.75),(19.22,23.06,.80),(19.25,23.07,.82),(19.18,23.16,.82),(19.21,23.21,.75),(18.76,23.27,.88),(18.87,23.26,.85),(18.87,23.31,.72),(18.96,23.25,.72),(18.20,23.34,.88),(18.52,23.40,.70),(18.70,23.40,.88),(18.79,23.37,.82),(18.82,23.40,.80),(18.83,23.47,.85),(18.52,23.50,.90),(18.30,23.42,.58),(18.34,23.53,.66),(19.04,23.32,.72),(19.12,23.38,.70),(19.23,23.33,.72),(19.27,23.34,.65),(19.09,23.28,.75),(19.16,23.28,.68),(19.23,23.49,.72),(19.30,23.49,.65),(18.89,23.49,.70),(18.99,23.50,.72),(18.15,23.60,.66),(19.31,23.24,.88),(19.51,23.35,.70),(19.57,23.32,.75),(19.44,23.39,.68),(19.68,23.42,.65),(19.47,23.41,.72),(19.63,23.45,.62),(18.93,23.44,.62),(18.97,23.43,.70),(19.10,23.45,.62)]

# least-squares fit parameters and scatter
fit_slope = 0.3716
fit_intercept = 16.879
fit_sigma = 0.403

colour_range = (0.0, 0.95)
x_ticks = [16, 17, 18, 19, 20, 21]
y_ticks = [22, 23, 24, 25, 26]
cbar_ticks = [0.2, 0.4, 0.6, 0.8]
legend_labels = ["Pristine LSBs", "Least Squares Fit", r"Fit - 3$\sigma$"]

# ---------------- build and draw ----------------
groups = [pts_left, pts_mid_left, core_rows_a, core_rows_b, core_rows_c, core_rows_d,
          pts_below_core, pts_lower_left, pts_lower_centre, pts_right, pts_right_mid, pts_blue]
df = pd.DataFrame([p for g in groups for p in g], columns=["m_r", "mu", "c"])

fig = plt.figure(figsize=(10.93, 5.90), dpi=100)
ax = fig.add_axes([97/1093, 76/590, 875/1093, 509/590])
cax = fig.add_axes([1028/1093, 76/590, 27/1093, 509/590])

norm = Normalize(*colour_range)
cmap = plt.get_cmap("plasma_r")

sns.scatterplot(data=df, x="m_r", y="mu", hue="c", palette="plasma_r", hue_norm=norm,
                s=14, edgecolor="white", linewidth=0.3, legend=False, ax=ax)

xs = np.array([df["m_r"].min(), df["m_r"].max()])
ax.plot(xs, fit_slope * xs + fit_intercept, color="black", lw=1.3)
ax.plot(xs, fit_slope * xs + fit_intercept - 3 * fit_sigma, color="black", lw=1.3, ls="--")

ax.set_xlim(15.867, 22.01)
ax.set_ylim(26.52, 21.44)
ax.set_xticks(x_ticks)
ax.set_yticks(y_ticks)
ax.tick_params(top=True, right=True, labelsize=15, direction="out", length=5, width=1.1)
for sp in ax.spines.values():
    sp.set_linewidth(1.5)
ax.set_xlabel("$m_r$", fontsize=18)
ax.set_ylabel(r"$\bar{\mu}_{\mathrm{e},r}$", fontsize=18)

handles = [Line2D([], [], marker="o", ls="", color=cmap(norm(0.3)), markersize=2.5),
           Line2D([], [], color="black", lw=1.3),
           Line2D([], [], color="black", lw=1.3, ls="--")]
ax.legend(handles, legend_labels, loc="upper right", fontsize=11, framealpha=1, labelspacing=0.6)

cb = fig.colorbar(ScalarMappable(norm=norm, cmap=cmap), cax=cax)
cb.set_ticks(cbar_ticks)
cb.ax.tick_params(labelsize=11.5, length=4)
cb.outline.set_linewidth(1.5)

fig.savefig("out.png", dpi=100)
